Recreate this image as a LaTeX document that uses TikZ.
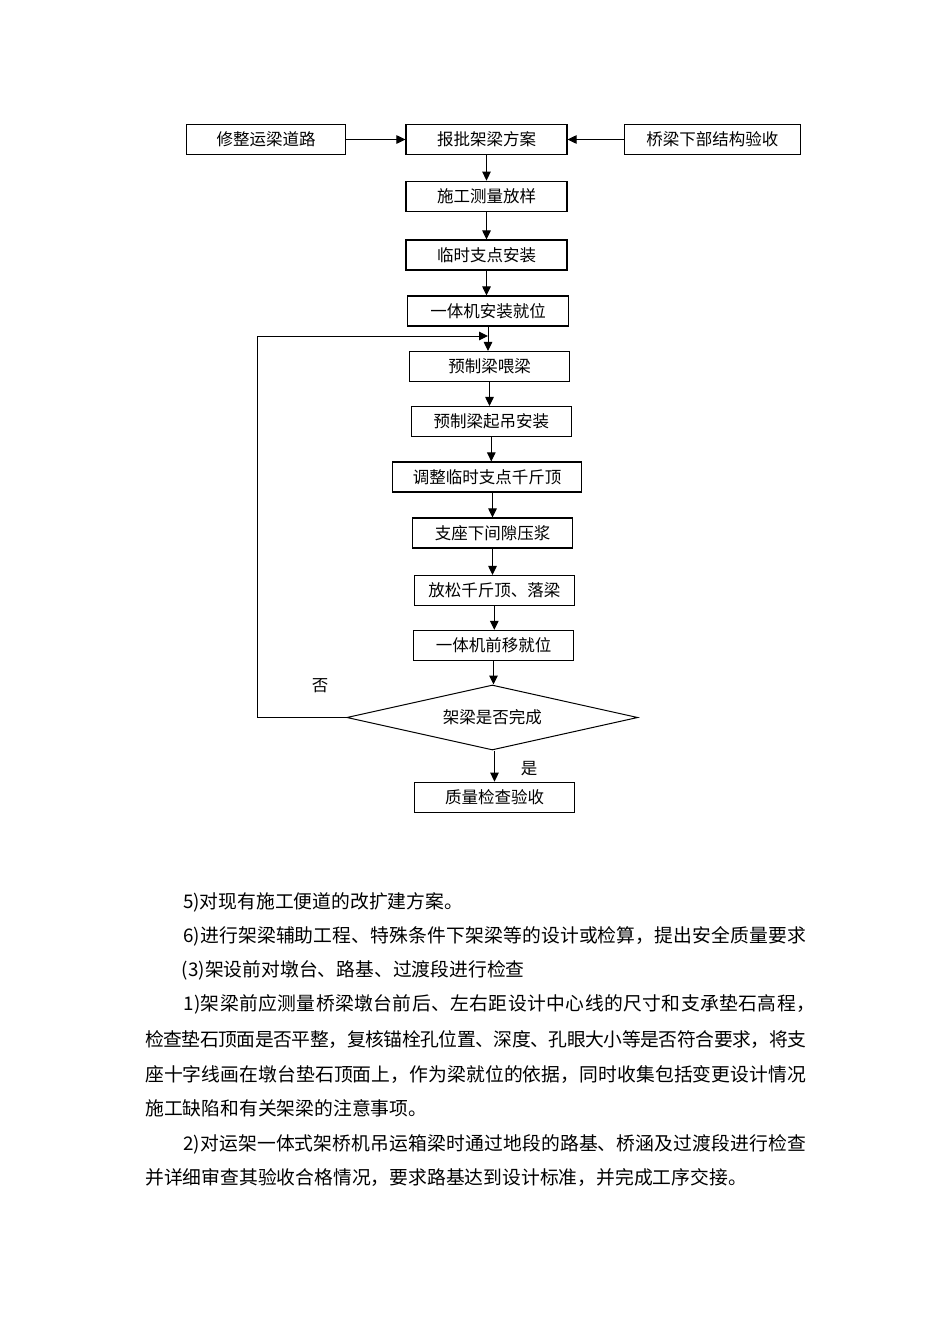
\documentclass[tikz,border=0pt]{standalone}
\usepackage{fontspec}
\setmainfont{Noto Sans CJK SC}
\usetikzlibrary{arrows.meta,shapes.geometric}
\def\spreadtxt#1{#1\spreadtxti}
\def\spreadtxti#1{\ifx\relax#1\else\hskip0pt plus 1fil minus 1fil\relax#1\expandafter\spreadtxti\fi}
\begin{document}
\begin{tikzpicture}[x=1pt,y=-1pt,
  box/.style={draw, line width=1.1pt, minimum height=30pt, inner sep=0pt,
    font=\fontsize{16.5}{18}\selectfont},
  dec/.style={draw, diamond, line width=1pt, minimum width=291pt, minimum height=65pt,
    aspect=4.48, inner sep=0pt, font=\fontsize{16.5}{18}\selectfont},
  conn/.style={line width=1pt, -{Triangle[length=9pt,width=8.5pt]}},
  lbl/.style={inner sep=0pt, font=\fontsize{16.5}{18}\selectfont},
  body/.style={anchor=base west, inner sep=0pt, font=\fontsize{18.8}{20}\selectfont}]
\useasboundingbox (0,0) rectangle (950,1344);
\fill[white] (0,0) rectangle (950,1344);

% flowchart boxes
\node[box, minimum width=159pt] (xz) at (266,139.5) {修整运梁道路};
\node[box, minimum width=161pt] (bp) at (486.5,139.5) {报批架梁方案};
\node[box, minimum width=176pt] (ql) at (712.3,139.5) {桥梁下部结构验收};
\node[box, minimum width=161pt] (sg) at (486.5,196.2) {施工测量放样};
\node[box, minimum width=161pt] (ls) at (486.5,255) {临时支点安装};
\node[box, minimum width=161pt] (yt) at (488,311) {一体机安装就位};
\node[box, minimum width=160pt] (wl) at (489.5,366.5) {预制梁喂梁};
\node[box, minimum width=160pt] (qd) at (491.3,421.5) {预制梁起吊安装};
\node[box, minimum width=189.6pt] (tz) at (487,477) {调整临时支点千斤顶};
\node[box, minimum width=160pt] (zz) at (492.5,533) {支座下间隙压浆};
\node[box, minimum width=160pt] (fs) at (494.3,590.5) {放松千斤顶、落梁};
\node[box, minimum width=160pt] (qy) at (493.5,645.4) {一体机前移就位};
\node[dec] (pd) at (492.3,717.5) {架梁是否完成};
\node[box, minimum width=160pt] (zl) at (494.5,797.2) {质量检查验收};

% labels
\node[lbl] (no) at (320,686) {否};
\node[lbl] (yes) at (529,769) {是};

% connectors
\draw[conn] (xz.east) -- (bp.west);
\draw[conn] (ql.west) -- (bp.east);
\draw[conn] (bp.south) -- (bp.south |- sg.north);
\draw[conn] (sg.south) -- (sg.south |- ls.north);
\draw[conn] (ls.south) -- (ls.south |- yt.north);
\draw[conn] (yt.south) -- (yt.south |- wl.north);
\draw[conn] (wl.south) -- (wl.south |- qd.north);
\draw[conn] (qd.south) -- (qd.south |- tz.north);
\draw[conn] (tz.south -| zz.north) -- (zz.north);
\draw[conn] (zz.south) -- (zz.south |- fs.north);
\draw[conn] (fs.south) -- (fs.south |- qy.north);
\draw[conn] (qy.south) -- (qy.south |- pd.north);
\draw[conn] (zl.north |- pd.south) -- (zl.north);
\coordinate (lc) at (257,717.5);
\coordinate (lt) at (257,336);
\draw[conn] (pd.west) -- (lc) -- (lt) -- (yt.south |- lt);

% body text
\node[body] (t1) at (183,908.8) {5)对现有施工便道的改扩建方案。};
\node[body] (t2) at (183,942.1) {\hbox to 623pt{\spreadtxt 6)进行架梁辅助工程、特殊条件下架梁等的设计或检算，提出安全质量要求\relax}};
\node[body] (t3) at (181.7,976.1) {(3)架设前对墩台、路基、过渡段进行检查};
\node[body] (t4) at (183,1010.1) {\hbox to 632pt{\spreadtxt 1)架梁前应测量桥梁墩台前后、左右距设计中心线的尺寸和支承垫石高程，\relax}};
\node[body] (t5) at (145,1046.1) {\hbox to 661pt{\spreadtxt 检查垫石顶面是否平整，复核锚栓孔位置、深度、孔眼大小等是否符合要求，将支\relax}};
\node[body] (t6) at (145,1081.1) {\hbox to 661pt{\spreadtxt 座十字线画在墩台垫石顶面上，作为梁就位的依据，同时收集包括变更设计情况\relax}};
\node[body] (t7) at (145,1115.1) {施工缺陷和有关架梁的注意事项。};
\node[body] (t8) at (183,1150.1) {\hbox to 623pt{\spreadtxt 2)对运架一体式架桥机吊运箱梁时通过地段的路基、桥涵及过渡段进行检查\relax}};
\node[body] (t9) at (145,1184.1) {并详细审查其验收合格情况，要求路基达到设计标准，并完成工序交接。};
\end{tikzpicture}
\end{document}
